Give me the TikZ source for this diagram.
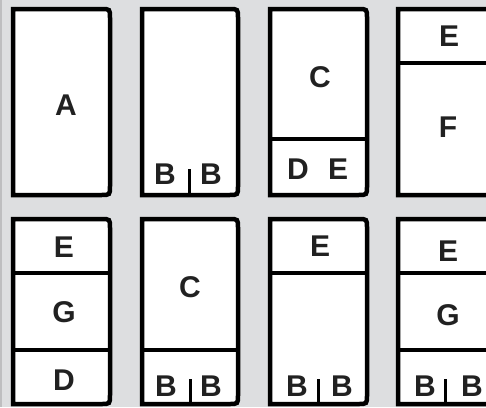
\documentclass[tikz,border=0pt]{standalone}
\usepackage{fontspec}
\setmainfont{Liberation Sans}
\usetikzlibrary{positioning}
\definecolor{panelgray}{RGB}{221,222,224}
\definecolor{edgegray}{RGB}{190,190,192}

% one panel: left, top, right, bottom (only the right corners are rounded)
\newcommand{\panelbox}[4]{%
  \draw[panel] (#1,#2) -- ({#3-9},#2) .. controls (#3,#2) .. (#3,{#2+9})
    -- (#3,{#4-9}) .. controls (#3,#4) .. ({#3-9},#4) -- (#1,#4) -- cycle;}

\begin{document}
\begin{tikzpicture}[x=1pt, y=-1pt,
    panel/.style={draw=black, fill=white, line width=4.5pt, line join=miter},
    divider/.style={draw=black, line width=3.8pt},
    tick/.style={draw=black, line width=3pt},
    lbl/.style={font=\fontsize{30}{32}\selectfont\bfseries, text=black!87, inner sep=0pt}]
    \useasboundingbox (0,0) rectangle (486,407);
    \fill[panelgray] (0,0) rectangle (486,407);
    \draw[edgegray, line width=2pt] (1,0) -- (1,407);

    % Top row
    \panelbox{13}{9}{110}{195}
    \panelbox{142}{9}{238}{195}
    \panelbox{270}{9}{367}{195}
    \panelbox{398}{9}{500}{195}

    % Bottom row
    \panelbox{13}{219}{110}{404}
    \panelbox{142}{219}{238}{404}
    \panelbox{270}{219}{367}{404}
    \panelbox{398}{219}{500}{404}

    % Dividers
    \coordinate (c3l) at (270,139); \coordinate (c3r) at (367,139);
    \coordinate (c4l) at (398,63);  \coordinate (c4r) at (500,63);
    \coordinate (c5l) at (13,273);  \coordinate (c5r) at (110,273);
    \coordinate (c5m) at (13,350);  \coordinate (c5n) at (110,350);
    \coordinate (c6l) at (142,350); \coordinate (c6r) at (238,350);
    \coordinate (c7l) at (270,273); \coordinate (c7r) at (367,273);
    \coordinate (c8l) at (398,273); \coordinate (c8r) at (500,273);
    \coordinate (c8m) at (398,350); \coordinate (c8n) at (500,350);
    \draw[divider] (c3l) -- (c3r);
    \draw[divider] (c4l) -- (c4r);
    \draw[divider] (c5l) -- (c5r);
    \draw[divider] (c5m) -- (c5n);
    \draw[divider] (c6l) -- (c6r);
    \draw[divider] (c7l) -- (c7r);
    \draw[divider] (c8l) -- (c8r);
    \draw[divider] (c8m) -- (c8n);

    % Labels, top row
    \node[lbl] (a1) at (66,105) {A};
    \node[lbl] (b2l) at (165,174) {B};
    \node[lbl] (b2r) at (211,174) {B};
    \node[lbl] (c3) at (320,77) {C};
    \node[lbl] (d3) at (298,169) {D};
    \node[lbl] (e3) at (338,169) {E};
    \node[lbl] (e4) at (449,36) {E};
    \node[lbl] (f4) at (448,127) {F};

    % Labels, bottom row
    \node[lbl] (e5) at (64,247) {E};
    \node[lbl] (g5) at (64,312) {G};
    \node[lbl] (d5) at (64,380) {D};
    \node[lbl] (c6) at (190,287) {C};
    \node[lbl] (b6l) at (166,386) {B};
    \node[lbl] (b6r) at (211,386) {B};
    \node[lbl] (e7) at (320,246) {E};
    \node[lbl] (b7l) at (297,386) {B};
    \node[lbl] (b7r) at (342,386) {B};
    \node[lbl] (e8) at (448,251) {E};
    \node[lbl] (g8) at (448,315) {G};
    \node[lbl] (b8l) at (425,386) {B};
    \node[lbl] (b8r) at (472,386) {B};

    % Ticks between the B labels
    \coordinate (t2a) at (189,169); \coordinate (t2b) at (189,195);
    \coordinate (t6a) at (190,379); \coordinate (t6b) at (190,404);
    \coordinate (t7a) at (318,379); \coordinate (t7b) at (318,404);
    \coordinate (t8a) at (445,379); \coordinate (t8b) at (445,404);
    \draw[tick] (t2a) -- (t2b);
    \draw[tick] (t6a) -- (t6b);
    \draw[tick] (t7a) -- (t7b);
    \draw[tick] (t8a) -- (t8b);
\end{tikzpicture}
\end{document}
